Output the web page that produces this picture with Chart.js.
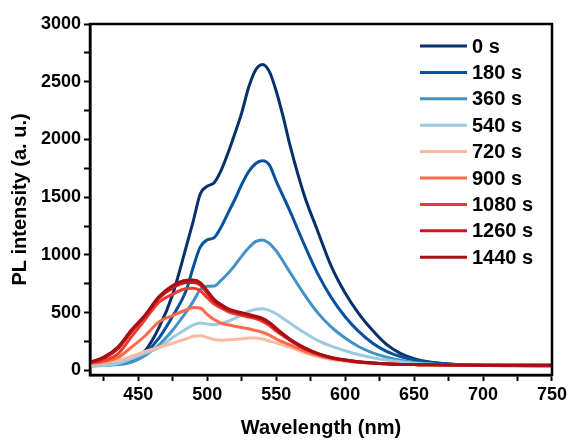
<!DOCTYPE html>
<html>
<head>
<meta charset="utf-8">
<script src="https://cdn.jsdelivr.net/npm/chart.js@4.4.1/dist/chart.umd.min.js"></script>
<style>
  body{margin:0;background:#fff;}
  #wrap{width:570px;height:440px;}
</style>
</head>
<body>
<div id="wrap"><canvas id="plChart" width="570" height="440"></canvas></div>
<script>
// wavelength (nm) and PL intensity (a. u.) per irradiation time
const wavelength = [415,425,435,445,455,465,475,485,490,495,500,505,510,515,520,525,530,535,540,545,550,555,560,570,580,590,600,610,620,630,640,650,660,680,700,720,750];
const s0    = [40,45,55,80,170,370,660,1080,1300,1530,1595,1625,1730,1880,2050,2230,2450,2600,2650,2590,2420,2200,1950,1530,1210,900,670,490,345,225,148,102,75,52,45,42,40];
const s180  = [40,45,55,80,150,280,470,700,900,1070,1130,1150,1240,1360,1480,1610,1720,1790,1815,1780,1640,1510,1380,1100,840,630,465,335,235,165,120,90,70,52,45,42,40];
const s360  = [40,42,50,70,130,220,350,510,600,700,728,730,780,840,910,990,1060,1115,1130,1100,1035,945,850,665,500,375,280,205,152,115,88,68,56,46,42,40,40];
const s540  = [38,42,60,100,150,195,285,360,395,410,402,396,405,425,450,480,510,530,534,520,490,450,410,330,260,210,170,135,110,90,75,62,55,45,42,40,40];
const s720  = [55,65,85,120,165,200,235,275,295,300,285,268,262,265,268,274,280,280,272,255,238,220,200,155,120,95,80,68,60,55,52,50,48,46,45,45,45];
const s900  = [60,75,110,200,300,420,475,525,545,540,485,440,410,395,382,372,360,345,330,305,272,245,220,170,130,102,85,70,62,56,52,50,48,46,45,45,45];
const s1080 = [65,85,140,290,440,590,660,710,712,690,630,575,540,510,490,476,462,448,425,390,340,300,260,190,140,108,88,72,63,57,52,50,48,46,45,45,45];
const s1260 = [68,105,185,335,470,625,715,760,762,740,670,600,555,525,505,490,475,460,440,405,355,308,265,195,145,110,89,73,63,57,52,50,48,46,45,45,45];
const s1440 = [70,115,200,350,480,640,735,780,782,760,690,615,570,535,515,500,485,470,450,415,365,315,270,200,148,112,90,74,64,57,52,50,48,46,45,45,45];

const labels = ["0 s","180 s","360 s","540 s","720 s","900 s","1080 s","1260 s","1440 s"];
const series = [s0,s180,s360,s540,s720,s900,s1080,s1260,s1440];
const colors = ["#08306b","#08519c","#4292c6","#9ecae1","#fcbba1","#fb6a4a","#ef3b2c","#cb181d","#a50f15"];

const xTicks = [425,450,475,500,525,550,575,600,625,650,675,700,725,750];
const yTicks = [0,250,500,750,1000,1250,1500,1750,2000,2250,2500,2750,3000];

const FONT = '"Liberation Sans", Arial, sans-serif';

let datasets = series.map((s,i)=>({
    label: labels[i],
    data: s.map((v,j)=>({x: wavelength[j], y: v})),
    borderColor: colors[i],
    backgroundColor: colors[i],
    borderWidth: 3,
    pointRadius: 0,
    cubicInterpolationMode: "monotone",
    fill: false,
    order: labels.length - i
}));

// box round the plot + legend inside the plot area
const framePlugin = {
    id: "frame",
    afterDraw(chart){
        const {ctx, chartArea:a} = chart;
        ctx.save();
        ctx.strokeStyle = "#000";
        ctx.lineWidth = 2.5;
        ctx.strokeRect(a.left, a.top, a.right - a.left, a.bottom - a.top);

        ctx.font = "bold 20px " + FONT;
        ctx.textBaseline = "middle";
        ctx.textAlign = "left";
        chart.data.datasets.forEach((d,i)=>{
            let y = 46 + i*26.4;
            ctx.strokeStyle = d.borderColor;
            ctx.lineWidth = 3;
            ctx.beginPath();
            ctx.moveTo(420, y);
            ctx.lineTo(467, y);
            ctx.stroke();
            ctx.fillStyle = "#000";
            ctx.fillText(d.label, 472, y + 1);
        });
        ctx.restore();
    }
};

new Chart(document.getElementById("plChart").getContext("2d"), {
    type: "line",
    data: { datasets: datasets },
    plugins: [framePlugin],
    options: {
        responsive: false,
        animation: false,
        layout: { padding: { top: 24, right: 17, left: 0, bottom: 0 } },
        plugins: { legend: { display: false }, tooltip: { enabled: false } },
        scales: {
            x: {
                type: "linear",
                min: 415, max: 750,
                afterFit(scale){ scale.height = 65; },
                afterBuildTicks(scale){ scale.ticks = xTicks.map(v=>({value: v})); },
                ticks: {
                    color: "#000",
                    font: { family: FONT, size: 18, weight: "bold" },
                    padding: 3,
                    maxRotation: 0,
                    autoSkip: false,
                    callback: v => (v % 50 === 0 ? v : "")
                },
                grid: { drawOnChartArea: false, drawTicks: true, tickLength: 6, tickWidth: 2, tickColor: "#000" },
                border: { display: true, color: "#000", width: 2.5 },
                title: {
                    display: true, text: "Wavelength (nm)", color: "#000",
                    font: { family: FONT, size: 20, weight: "bold" },
                    padding: { top: 0, bottom: 0 }
                }
            },
            y: {
                type: "linear",
                min: -40, max: 3000,
                afterFit(scale){ scale.width = 90; },
                afterBuildTicks(scale){ scale.ticks = yTicks.map(v=>({value: v})); },
                ticks: {
                    color: "#000",
                    font: { family: FONT, size: 18, weight: "bold" },
                    padding: 3,
                    autoSkip: false,
                    callback: v => (v % 500 === 0 ? v : "")
                },
                grid: { drawOnChartArea: false, drawTicks: true, tickLength: 6, tickWidth: 2, tickColor: "#000" },
                border: { display: true, color: "#000", width: 2.5 },
                title: {
                    display: true, text: "PL intensity (a. u.)", color: "#000",
                    font: { family: FONT, size: 20, weight: "bold" },
                    padding: { top: 8, bottom: 0 }
                }
            }
        }
    }
});
</script>
</body>
</html>
